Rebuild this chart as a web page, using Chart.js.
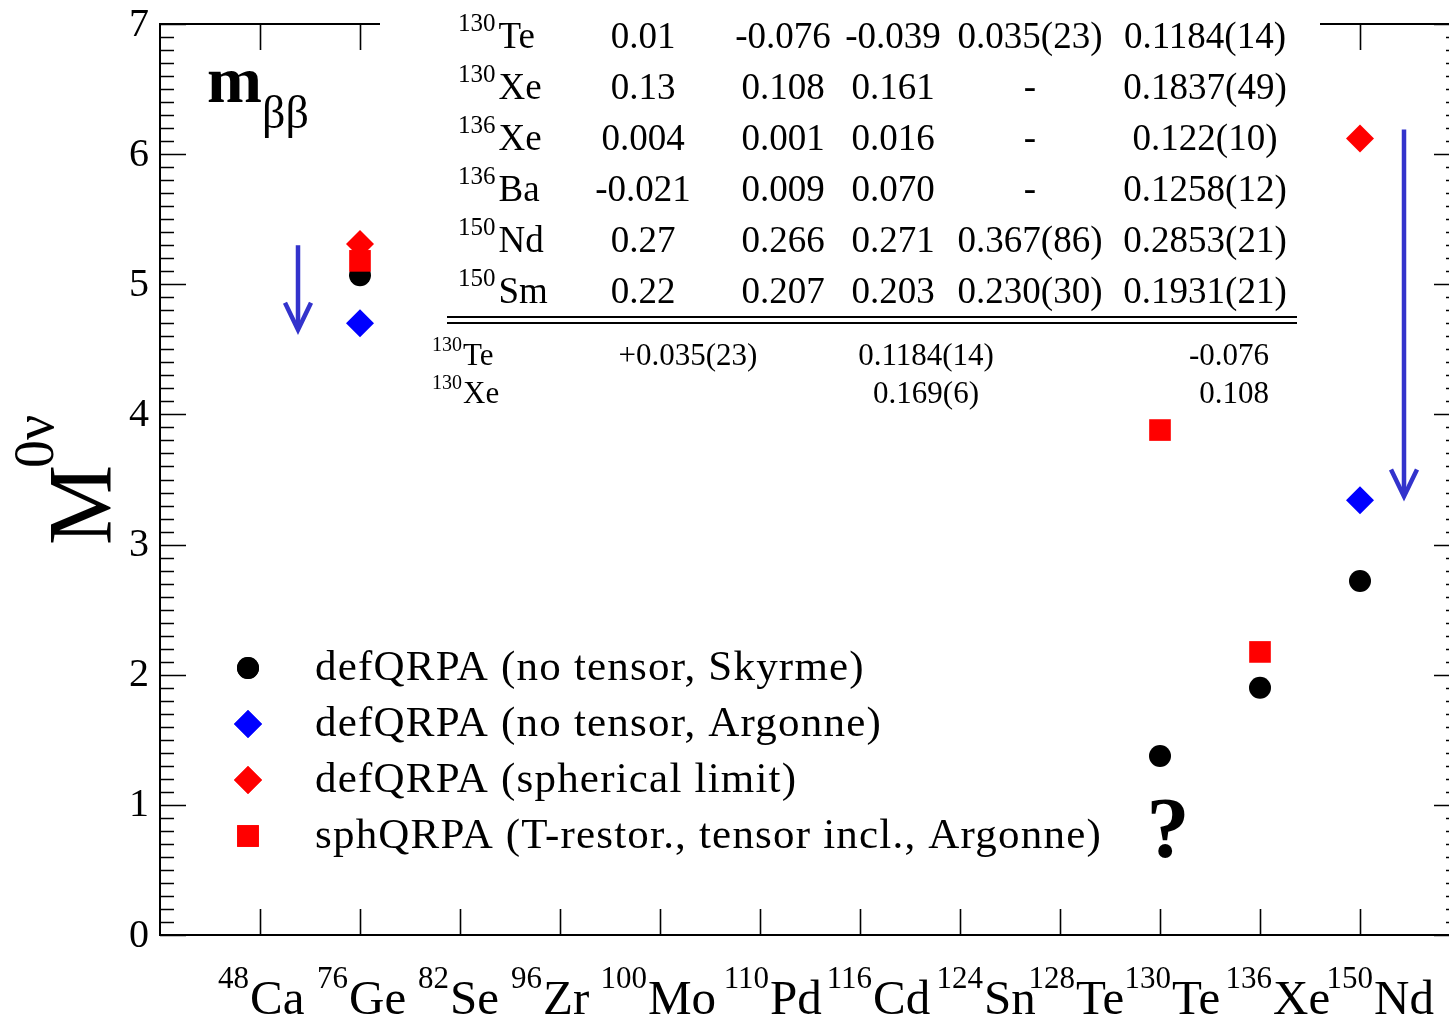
<!DOCTYPE html>
<html><head><meta charset="utf-8">
<script src="https://cdn.jsdelivr.net/npm/chart.js@4.4.0/dist/chart.umd.min.js"></script>
<style>
html,body{margin:0;padding:0;overflow:hidden;background:#fff;width:1449px;height:1021px}
#wrap{position:absolute;left:0;top:0;width:1470px;height:1021px}
</style>
</head><body><div id="wrap"><canvas id="c" width="1470" height="1021"></canvas></div>
<script>
// ---------- data ----------
const massNumbers = ['48','76','82','96','100','110','116','124','128','130','136','150'];
const elements    = ['Ca','Ge','Se','Zr','Mo','Pd','Cd','Sn','Te','Te','Xe','Nd'];
const categories  = massNumbers.map((m,i)=>m+elements[i]);
const yTickValues = [0,1,2,3,4,5,6,7];

const skyrmeIso  = ['76Ge','130Te','136Xe','150Nd'];
const skyrmeVal  = [5.07, 1.375, 1.90, 2.72];
const argonneIso = ['76Ge','150Nd'];
const argonneVal = [4.70, 3.34];
const sphLimIso  = ['76Ge','150Nd'];
const sphLimVal  = [5.31, 6.12];
const sphQrpaIso = ['76Ge','130Te','136Xe'];
const sphQrpaVal = [5.18, 3.88, 2.175];

const legendLabels = [
  'defQRPA (no tensor, Skyrme)',
  'defQRPA (no tensor, Argonne)',
  'defQRPA (spherical limit)',
  'sphQRPA (T-restor., tensor incl., Argonne)'
];

// arrows (x in category-axis units, y in M units)
const arrowX    = [1.38, 12.44];
const arrowFrom = [5.30, 6.19];
const arrowTo   = [4.65, 3.37];

// inset table
const tabIsoMass = ['130','130','136','136','150','150'];
const tabIsoSym  = ['Te','Xe','Xe','Ba','Nd','Sm'];
const tabCol1 = ['0.01','0.13','0.004','-0.021','0.27','0.22'];
const tabCol2 = ['-0.076','0.108','0.001','0.009','0.266','0.207'];
const tabCol3 = ['-0.039','0.161','0.016','0.070','0.271','0.203'];
const tabCol4 = ['0.035(23)','-','-','-','0.367(86)','0.230(30)'];
const tabCol5 = ['0.1184(14)','0.1837(49)','0.122(10)','0.1258(12)','0.2853(21)','0.1931(21)'];
const subIsoMass = ['130','130'];
const subIsoSym  = ['Te','Xe'];
const subCol1 = ['+0.035(23)',''];
const subCol2 = ['0.1184(14)','0.169(6)'];
const subCol3 = ['-0.076','0.108'];

// layout: horizontal shift of each element symbol start relative to its tick (px)
const labelShift = [-10,-11,-10,-17,-12,10,13,24,16,12,13,14];

// ---------- helpers ----------
const pts = (iso, val) => iso.map((c,i)=>({x: categories.indexOf(c)+1, y: val[i]}));
const SERIF = '"Liberation Serif","Times New Roman",serif';

const datasets = [
  {label: legendLabels[0], data: pts(skyrmeIso, skyrmeVal), pointStyle:'circle', radius:11,
   backgroundColor:'#000', borderColor:'#000', borderWidth:0, order:2},
  {label: legendLabels[1], data: pts(argonneIso, argonneVal), pointStyle:'rectRot', radius:14,
   backgroundColor:'#0000ff', borderColor:'#0000ff', borderWidth:0, order:3},
  {label: legendLabels[2], data: pts(sphLimIso, sphLimVal), pointStyle:'rectRot', radius:14,
   backgroundColor:'#ff0000', borderColor:'#ff0000', borderWidth:0, order:0},
  {label: legendLabels[3], data: pts(sphQrpaIso, sphQrpaVal), pointStyle:'rect', radius:15.3,
   backgroundColor:'#ff0000', borderColor:'#ff0000', borderWidth:0, order:1}
];

const framePlugin = {
  id:'frame',
  beforeDatasetsDraw(chart){
    const {ctx, chartArea:a, scales:{x,y}} = chart;
    ctx.save();
    ctx.strokeStyle='#000'; ctx.lineWidth=2;
    ctx.strokeRect(a.left, a.top, a.right-a.left, a.bottom-a.top);
    ctx.lineWidth=1.6;
    for(let k=0;k<=70;k++){
      const v=k/10, py=Math.round(y.getPixelForValue(v))+0.5;
      const len = (k%10===0)?26:14;
      ctx.beginPath();
      ctx.moveTo(a.left,py); ctx.lineTo(a.left+len,py);
      ctx.moveTo(a.right,py); ctx.lineTo(a.right-len,py);
      ctx.stroke();
    }
    categories.forEach((c,i)=>{
      const px=Math.round(x.getPixelForValue(i+1))+0.5;
      ctx.beginPath();
      ctx.moveTo(px,a.bottom); ctx.lineTo(px,a.bottom-26);
      ctx.moveTo(px,a.top); ctx.lineTo(px,a.top+26);
      ctx.stroke();
    });
    ctx.fillStyle='#000';
    ctx.font='40px '+SERIF;
    ctx.textAlign='right'; ctx.textBaseline='middle';
    yTickValues.forEach(v=>ctx.fillText(String(v), a.left-11, y.getPixelForValue(v)+1));
    // x labels
    categories.forEach((c,i)=>{
      const px=x.getPixelForValue(i+1);
      const es=px+labelShift[i];
      ctx.textBaseline='alphabetic';
      ctx.textAlign='right';
      ctx.font='31px '+SERIF; ctx.fillText(massNumbers[i], es-1, 988);
      ctx.textAlign='left';
      ctx.font='49px '+SERIF; ctx.fillText(elements[i], es, 1014);
    });
    // y title M^0nu
    ctx.save();
    ctx.translate(111, 545); ctx.rotate(-Math.PI/2);
    ctx.textAlign='left'; ctx.textBaseline='alphabetic';
    ctx.font='90px '+SERIF; ctx.fillText('M',0,0);
    const wm=ctx.measureText('M').width;
    ctx.font='56px '+SERIF; ctx.fillText('0\u03BD', wm-3, -58);
    ctx.restore();
    ctx.restore();
  },
  afterDatasetsDraw(chart){
    const {ctx, scales:{x,y}} = chart;
    ctx.save();
    ctx.strokeStyle='#3333cc'; ctx.lineWidth=4.5; ctx.lineCap='butt';
    arrowX.forEach((ax,i)=>{
      const px=x.getPixelForValue(ax), p0=y.getPixelForValue(arrowFrom[i]), p1=y.getPixelForValue(arrowTo[i]);
      ctx.beginPath(); ctx.moveTo(px,p0); ctx.lineTo(px,p1-3); ctx.stroke();
      ctx.beginPath(); ctx.moveTo(px-13,p1-27); ctx.lineTo(px,p1); ctx.lineTo(px+13,p1-27); ctx.stroke();
    });
    // white inset box
    ctx.fillStyle='#fff'; ctx.fillRect(380,0,940,412);
    ctx.fillStyle='#000';
    const colC=[643,783,893,1030,1205];
    const cols=[tabCol1,tabCol2,tabCol3,tabCol4,tabCol5];
    for(let r=0;r<tabIsoSym.length;r++){
      const cy=37+r*51.1;
      ctx.textBaseline='middle';
      ctx.textAlign='left';
      ctx.font='25px '+SERIF; ctx.fillText(tabIsoMass[r],458,cy-13);
      const wmass=ctx.measureText(tabIsoMass[r]).width;
      ctx.font='37px '+SERIF; ctx.fillText(tabIsoSym[r],458+wmass+3,cy+1);
      ctx.textAlign='center';
      cols.forEach((col,ci)=>ctx.fillText(col[r],colC[ci],cy+1));
    }
    ctx.fillRect(447,316,850,2);
    ctx.fillRect(447,322,850,2);
    for(let r=0;r<subIsoSym.length;r++){
      const cy=356+r*38;
      ctx.textBaseline='middle'; ctx.textAlign='left';
      ctx.font='20px '+SERIF; ctx.fillText(subIsoMass[r],432,cy-10);
      const wmass=ctx.measureText(subIsoMass[r]).width;
      ctx.font='31px '+SERIF; ctx.fillText(subIsoSym[r],432+wmass+1,cy+1);
      ctx.textAlign='center';
      ctx.fillText(subCol1[r],688,cy+1);
      ctx.fillText(subCol2[r],926,cy+1);
      ctx.textAlign='right';
      ctx.fillText(subCol3[r],1269,cy+1);
    }
    // m_bb label
    ctx.textAlign='left'; ctx.textBaseline='alphabetic';
    ctx.font='bold 66px '+SERIF; ctx.fillText('m',207,102);
    ctx.font='46px '+SERIF; ctx.fillText('\u03B2\u03B2',262,128);
    // question mark
    ctx.textAlign='center';
    ctx.font='bold 86px '+SERIF; ctx.fillText('?',1168,857);
    // legend
    const lx=248, ly0=668, dy=56;
    chart.data.datasets.forEach((ds,i)=>{
      const cy=ly0+i*dy;
      ctx.fillStyle=ds.backgroundColor; ctx.strokeStyle=ds.borderColor;
      Chart.helpers.drawPoint(ctx,{pointStyle:ds.pointStyle, radius:ds.radius, borderWidth:0, rotation:0},lx,cy);
      ctx.fill();
      ctx.fillStyle='#000';
      ctx.textAlign='left'; ctx.textBaseline='middle';
      ctx.font='43px '+SERIF;
      ctx.letterSpacing='1.2px';
      ctx.fillText(ds.label,315,cy+1);
      ctx.letterSpacing='0px';
    });
    ctx.restore();
  }
};

new Chart(document.getElementById('c'), {
  type:'scatter',
  data:{datasets},
  options:{
    responsive:false, animation:false, devicePixelRatio:1,
    layout:{autoPadding:false, padding:{top:24,right:10,left:0,bottom:0}},
    plugins:{legend:{display:false}, tooltip:{enabled:false}},
    scales:{
      x:{type:'linear', min:0, max:13, ticks:{display:false}, grid:{display:false, drawTicks:false}, border:{display:false},
         afterFit(s){s.height=86;}},
      y:{type:'linear', min:0, max:7, ticks:{display:false}, grid:{display:false, drawTicks:false}, border:{display:false},
         afterFit(s){s.width=160;}}
    }
  },
  plugins:[framePlugin]
});
</script>
</body></html>
